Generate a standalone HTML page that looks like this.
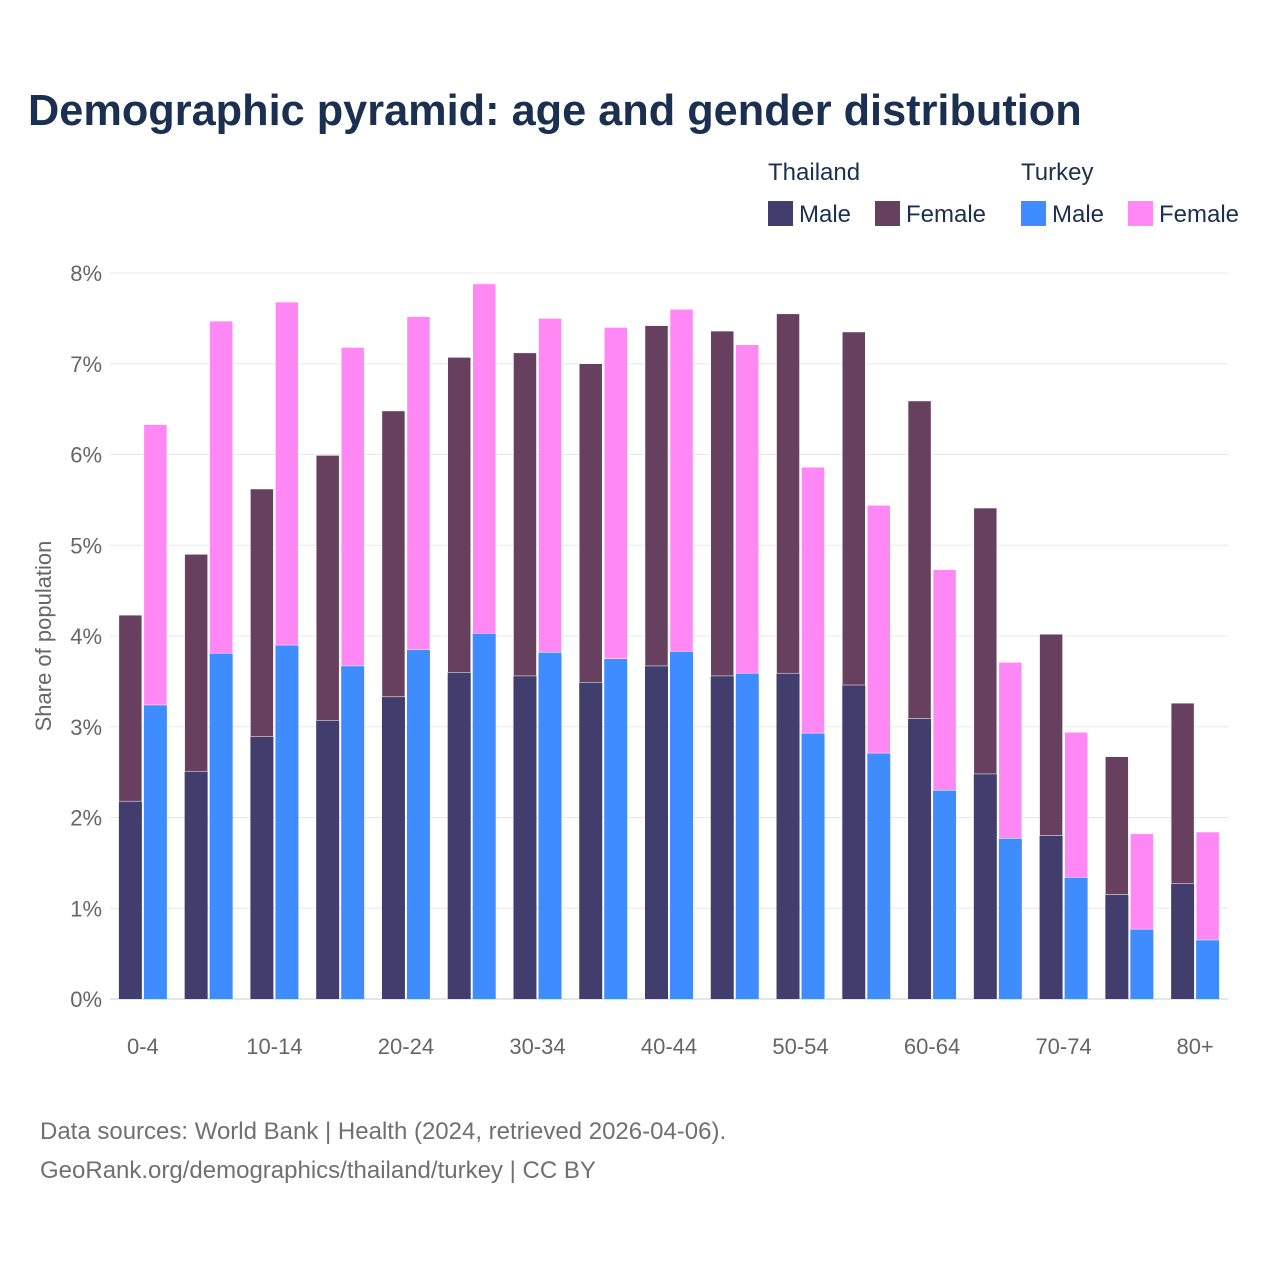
<!DOCTYPE html>
<html><head><meta charset="utf-8">
<style>
body{margin:0;background:#fff;font-family:"Liberation Sans",sans-serif;}
#wrap{position:relative;width:1280px;height:1280px;overflow:hidden;background:#fff}
</style></head>
<body>
<div id="wrap">
<svg id="chart" width="1280" height="1280" xmlns="http://www.w3.org/2000/svg">
<text x="28" y="125" font-size="43.3" font-weight="bold" fill="#1b3050" font-family="Liberation Sans, sans-serif">Demographic pyramid: age and gender distribution</text>
<g font-size="24" fill="#1b3050">
<text x="768" y="180">Thailand</text>
<text x="1021" y="180">Turkey</text>
<g><rect x="768" y="201" width="25" height="25" fill="#413e6e"/><text x="799" y="222">Male</text></g>
<g><rect x="875" y="201" width="25" height="25" fill="#66405e"/><text x="906" y="222">Female</text></g>
<g><rect x="1021" y="201" width="25" height="25" fill="#3f8cff"/><text x="1052" y="222">Male</text></g>
<g><rect x="1128" y="201" width="25" height="25" fill="#ff88f5"/><text x="1159" y="222">Female</text></g>
</g>
<g id="grid"></g>
<g id="bars"></g>
<g id="xlabels"></g>
<text transform="translate(51,636) rotate(-90)" text-anchor="middle" font-size="22" fill="#666">Share of population</text>
<text x="40" y="1139" font-size="24" fill="#707070">Data sources: World Bank | Health (2024, retrieved 2026-04-06).</text>
<text x="40" y="1178" font-size="24" fill="#707070">GeoRank.org/demographics/thailand/turkey | CC BY</text>
</svg>
</div>
<script>
const categories=["0-4","5-9","10-14","15-19","20-24","25-29","30-34","35-39","40-44","45-49","50-54","55-59","60-64","65-69","70-74","75-79","80+"];
const thMale=[2.18,2.51,2.89,3.07,3.33,3.60,3.56,3.49,3.67,3.56,3.59,3.46,3.09,2.48,1.80,1.15,1.27];
const thFemale=[2.05,2.39,2.73,2.92,3.15,3.47,3.56,3.51,3.75,3.80,3.96,3.89,3.50,2.93,2.22,1.52,1.99];
const trMale=[3.24,3.81,3.90,3.67,3.85,4.03,3.82,3.75,3.83,3.59,2.93,2.71,2.30,1.77,1.34,0.77,0.65];
const trFemale=[3.09,3.66,3.78,3.51,3.67,3.85,3.68,3.65,3.77,3.62,2.93,2.73,2.43,1.94,1.60,1.05,1.19];
const yTicks=[0,1,2,3,4,5,6,7,8];
const NS="http://www.w3.org/2000/svg";
const x0=110,x1=1228,yBase=999,pxPer=90.75;
const bw=(x1-x0)/categories.length;
const y=v=>yBase-v*pxPer;
const grid=document.getElementById('grid'),bars=document.getElementById('bars'),xl=document.getElementById('xlabels');
function mk(tag,attrs,parent){const e=document.createElementNS(NS,tag);for(const k in attrs)e.setAttribute(k,attrs[k]);parent.appendChild(e);return e;}
yTicks.forEach(t=>{
  const l=mk('line',{x1:x0,x2:x1,y1:y(t),y2:y(t),stroke:t===0?'#ccc':'#e8e8e8','stroke-width':1},grid);
  
  
  const tx=mk('text',{x:102,y:y(t)+8,'text-anchor':'end','font-size':22,fill:'#666'},grid);
  tx.textContent=t+'%';
  
  
});
categories.forEach((c,i)=>{
  const cx=x0+bw*(i+0.5);
  const w=23;
  const sets=[[cx-w-1,thMale[i],thFemale[i],'#413e6e','#66405e','thailand'],[cx+1,trMale[i],trFemale[i],'#3f8cff','#ff88f5','turkey']];
  sets.forEach(s=>{
    const m=mk('rect',{x:s[0],y:y(s[1]),width:w,height:s[1]*pxPer,fill:s[3]},bars);
    
    
    const f=mk('rect',{x:s[0],y:y(s[1]+s[2]),width:w,height:s[2]*pxPer,fill:s[4],stroke:'#fff','stroke-width':0.5},bars);
    
    
  });
  if(i%2===0){
    const t=mk('text',{x:cx,y:1054,'text-anchor':'middle','font-size':22,fill:'#666'},xl);
    t.textContent=c;
    
    
  }
});
</script>
</body></html>
